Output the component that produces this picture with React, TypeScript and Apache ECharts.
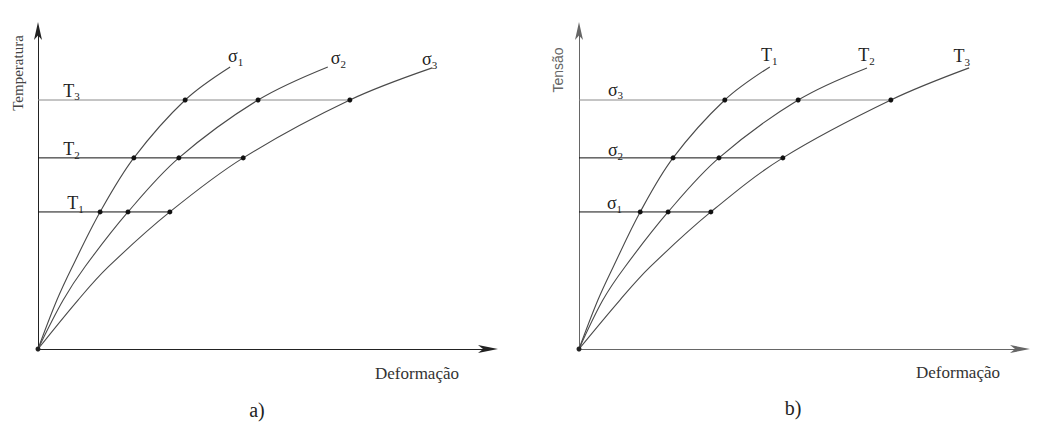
import { useEffect, useRef } from "react";
import * as echarts from "echarts";

// ---------- Panel a) Temperatura x Deformação (curves at constant stress) ----------
const tempLevels = [43.1, 60.1, 78.3]; // T1, T2, T3
const tempLevelSubs = ["1", "2", "3"];
const sigmaCurveSubs = ["1", "2", "3"];
const sigma1Curve = [[0, 0], [4.2, 15.4], [7.6, 25.8], [13.8, 43.1], [21.3, 60.1], [32.7, 78.3], [42.7, 88.7]];
const sigma2Curve = [[0, 0], [5.6, 15.4], [10.4, 25.8], [20.0, 43.1], [31.3, 60.1], [48.9, 78.3], [64.4, 88.7]];
const sigma3Curve = [[0, 0], [8.9, 15.4], [15.6, 25.8], [29.3, 43.1], [45.6, 60.1], [69.3, 78.3], [87.6, 88.4]];

// ---------- Panel b) Tensão x Deformação (curves at constant temperature) ----------
const stressLevels = [43.1, 60.1, 78.3]; // σ1, σ2, σ3
const stressLevelSubs = ["1", "2", "3"];
const tempCurveSubs = ["1", "2", "3"];
const t1Curve = [[0, 0], [4.2, 15.4], [7.6, 25.8], [13.6, 43.1], [20.9, 60.1], [32.4, 78.3], [42.4, 88.7]];
const t2Curve = [[0, 0], [5.3, 15.4], [10.2, 25.8], [19.8, 43.1], [31.1, 60.1], [48.7, 78.3], [64.0, 88.4]];
const t3Curve = [[0, 0], [9.1, 15.4], [15.8, 25.8], [29.3, 43.1], [45.3, 60.1], [69.3, 78.3], [86.7, 88.4]];

// label placement (style only)
const curveLabelOffA = [[6, -10], [11, -8], [-2, -8]];
const levelLabelOffA = [[38, -8], [34, -8], [34, -9]];
const curveLabelOffB = [[0, -11], [0, -12], [-7, -11]];
const levelLabelOffB = [[36, -8], [37, -7], [37, -10]];
const levelColors = ["#111", "#111", "#8a8a8a"];

const SERIF = "'Liberation Serif', 'Times New Roman', serif";
const SANS = "'Liberation Sans', Arial, sans-serif";
const TRANSPARENT = "rgba(0,0,0,0)";

const rich = {
  b: { fontFamily: SERIF, fontSize: 18, color: "#222", lineHeight: 22 },
  s: { fontFamily: SERIF, fontSize: 11, color: "#222", lineHeight: 10, verticalAlign: "bottom" },
};

function labelOpt(letter: string, sub: string, off: number[]) {
  return {
    show: true,
    position: off,
    align: "center",
    verticalAlign: "middle",
    color: "#222",
    formatter: `{b|${letter}}{s|${sub}}`,
    rich,
  };
}

function curveSeries(data: number[][], grid: number, letter: string, sub: string, off: number[], origin: boolean) {
  return {
    type: "line",
    xAxisIndex: grid,
    yAxisIndex: grid,
    smooth: 0.35,
    clip: false,
    silent: true,
    z: 4,
    symbol: "circle",
    showSymbol: true,
    lineStyle: { color: "#4a4a4a", width: 1.1 },
    itemStyle: { borderWidth: 0 },
    data: data.map((p, i) => {
      if (i === data.length - 1) {
        return {
          value: p,
          symbolSize: 1,
          itemStyle: { color: TRANSPARENT, borderWidth: 0 },
          label: labelOpt(letter, sub, off),
        };
      }
      if (i >= 3 && i <= 5) return { value: p, symbolSize: 5, itemStyle: { color: "#111", borderWidth: 0 } };
      if (i === 0 && origin) return { value: p, symbolSize: 5, itemStyle: { color: "#222", borderWidth: 0 } };
      return { value: p, symbol: "none" };
    }),
  };
}

function levelSeries(y: number, xEnd: number, grid: number, letter: string, sub: string, off: number[], color: string) {
  return {
    type: "line",
    xAxisIndex: grid,
    yAxisIndex: grid,
    clip: false,
    silent: true,
    z: 2,
    symbol: "circle",
    showSymbol: true,
    lineStyle: { color, width: 1 },
    data: [
      {
        value: [0, y],
        symbolSize: 1,
        itemStyle: { color: TRANSPARENT, borderWidth: 0 },
        label: labelOpt(letter, sub, off),
      },
      { value: [xEnd, y], symbol: "none" },
    ],
  };
}

function axisPair(color: string, max: number) {
  const common = {
    type: "value",
    min: 0,
    axisTick: { show: false },
    axisLabel: { show: false },
    splitLine: { show: false },
  };
  return {
    x: {
      ...common,
      max,
      axisLine: { show: true, symbol: ["none", "arrow"], symbolSize: [6, 20], symbolOffset: [0, 10], lineStyle: { color, width: 1 } },
    },
    y: {
      ...common,
      max: 100,
      axisLine: { show: true, symbol: ["none", "arrow"], symbolSize: [6, 18], symbolOffset: [0, 9], lineStyle: { color, width: 1 } },
    },
  };
}

export default function App() {
  const ref = useRef<HTMLDivElement>(null);
  useEffect(() => {
    if (!ref.current) return;
    const chart = echarts.init(ref.current, undefined, { renderer: "svg" });
    const a = axisPair("#222", 100);
    const b = axisPair("#666", 98);
    const curvesA = [sigma1Curve, sigma2Curve, sigma3Curve];
    const curvesB = [t1Curve, t2Curve, t3Curve];
    const series: any[] = [];
    tempLevels.forEach((y, i) => {
      series.push(levelSeries(y, sigma3Curve[3 + i][0], 0, "T", tempLevelSubs[i], levelLabelOffA[i], levelColors[i]));
    });
    curvesA.forEach((c, i) => series.push(curveSeries(c, 0, "σ", sigmaCurveSubs[i], curveLabelOffA[i], i === 0)));
    stressLevels.forEach((y, i) => {
      series.push(levelSeries(y, t3Curve[3 + i][0], 1, "σ", stressLevelSubs[i], levelLabelOffB[i], levelColors[i]));
    });
    curvesB.forEach((c, i) => series.push(curveSeries(c, 1, "T", tempCurveSubs[i], curveLabelOffB[i], i === 0)));

    const txt = (text: string, x: number, y: number, size: number, color: string, family = SERIF, rotation = 0) => ({
      type: "text",
      x,
      y,
      rotation,
      silent: true,
      style: {
        text,
        fill: color,
        font: `${size}px ${family}`,
        align: "center",
        verticalAlign: "middle",
      },
    });

    chart.setOption({
      animation: false,
      backgroundColor: "#fff",
      grid: [
        { left: 38, top: 31, width: 450, height: 318 },
        { left: 579, top: 31, width: 441, height: 318 },
      ],
      xAxis: [{ ...a.x, gridIndex: 0 }, { ...b.x, gridIndex: 1 }],
      yAxis: [{ ...a.y, gridIndex: 0 }, { ...b.y, gridIndex: 1 }],
      series,
      graphic: [
        txt("Temperatura", 18, 73, 15, "#444", SERIF, Math.PI / 2),
        txt("Tensão", 558, 70, 14, "#666", SANS, Math.PI / 2),
        txt("Deformação", 417, 373, 17, "#333"),
        txt("Deformação", 958, 372, 17, "#333"),
        txt("a)", 257, 410, 20, "#222"),
        txt("b)", 793, 408, 20, "#222"),
      ],
    });
    return () => chart.dispose();
  }, []);
  return <div ref={ref} style={{ width: 1040, height: 430, position: "absolute", left: 0, top: 0 }} />;
}
